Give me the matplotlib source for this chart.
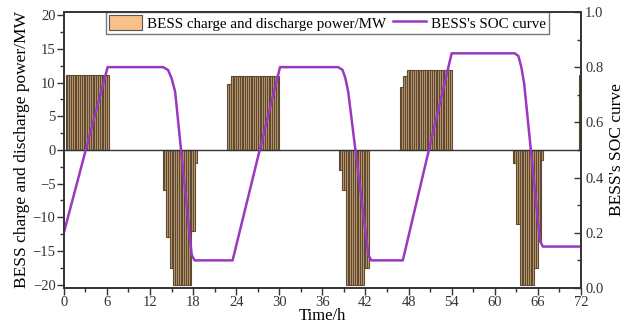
import matplotlib
matplotlib.use('Agg')
import matplotlib.pyplot as plt
from matplotlib.patches import Patch
from matplotlib.ticker import MultipleLocator
import numpy as np

plt.rcParams['font.family'] = ['Liberation Serif', 'DejaVu Serif']

# BESS power schedule as constant-power segments (h, h, MW)
seg_start = [0.25, 13.75, 14.25, 14.75, 15.25, 17.75, 18.25,
             22.75, 23.25, 38.25, 38.75, 39.25, 41.75,
             46.75, 47.25, 47.75, 62.5, 63.0, 63.5, 65.5, 66.0, 66.5, 71.75]
seg_end = [6.25, 14.25, 14.75, 15.25, 17.75, 18.25, 18.5,
           23.25, 30.0, 38.75, 39.25, 41.75, 42.5,
           47.25, 47.75, 54.0, 63.0, 63.5, 65.5, 66.0, 66.5, 66.75, 72.0]
seg_power = [11.2, -6, -13, -17.5, -20, -12, -2,
             9.8, 11.0, -3, -6, -20, -17.5,
             9.4, 11.0, 11.8, -2, -11, -20, -17.5, -13.5, -1.5, 11.2]

# state of charge
soc_t = [0, 6.1, 13.8, 14.5, 15.0, 15.5, 17.8, 18.2, 23.5, 30.1,
         38.2, 38.8, 39.2, 39.6, 42.4, 42.8, 47.2, 54.0,
         62.8, 63.3, 63.7, 64.1, 66.3, 66.7, 72]
soc = [0.2, 0.8, 0.8, 0.79, 0.76, 0.71, 0.12, 0.1, 0.1, 0.8,
       0.8, 0.79, 0.76, 0.71, 0.12, 0.1, 0.1, 0.85,
       0.85, 0.84, 0.8, 0.74, 0.17, 0.15, 0.15]

x_ticks = [0, 6, 12, 18, 24, 30, 36, 42, 48, 54, 60, 66, 72]


def quarter_hours():
    # split every segment into 15-min bars
    t, p = [], []
    for s, e, v in zip(seg_start, seg_end, seg_power):
        for q in np.arange(s, e - 1e-9, 0.25):
            t.append(q)
            p.append(v)
    return np.array(t), np.array(p)


def main():
    fig = plt.figure(figsize=(6.26, 3.31), dpi=100)
    ax = fig.add_axes([0.102, 0.130, 0.826, 0.834])
    ax2 = ax.twinx()

    t, p = quarter_hours()
    ax.bar(t, p, width=0.25, align='edge', color='#c3a171',
           edgecolor='#5e4a33', linewidth=0.8, zorder=2)
    ax.axhline(0, color='#333333', lw=1.0, zorder=3)

    line, = ax2.plot(soc_t, soc, color='#9a38c0', lw=1.8,
                     label="BESS's SOC curve")

    ax.set_xlim(0, 72)
    ax.set_ylim(-20.5, 20.5)
    ax2.set_ylim(0, 1.0)
    ax.set_xticks(x_ticks)
    ax.xaxis.set_minor_locator(MultipleLocator(3))
    ax.set_yticks(range(-20, 21, 5))
    ax.yaxis.set_minor_locator(MultipleLocator(2.5))
    ax2.set_yticks(np.arange(0, 1.01, 0.2))
    ax2.yaxis.set_minor_locator(MultipleLocator(0.1))
    ax2.set_yticklabels(['0.0', '0.2', '0.4', '0.6', '0.8', '1.0'])

    ax.tick_params(axis='both', which='major', direction='out', length=5,
                   width=1, labelsize=10.5, colors='#333333', pad=1)
    ax.tick_params(axis='both', which='minor', direction='out', length=3,
                   width=1, colors='#333333')
    ax2.tick_params(axis='y', which='major', direction='in', length=5,
                    width=1, labelsize=10.5, colors='#333333', pad=3)
    ax2.tick_params(axis='y', which='minor', direction='in', length=3,
                    width=1, colors='#333333')
    for a in (ax, ax2):
        for sp in a.spines.values():
            sp.set_color('#333333')
            sp.set_linewidth(1.2)

    ax.set_xlabel('Time/h', fontsize=12, labelpad=-1)
    ax.set_ylabel('BESS charge and discharge power/MW', fontsize=12.5,
                  labelpad=2)
    ax2.set_ylabel("BESS's SOC curve", fontsize=12.5, labelpad=4)

    bar_key = Patch(facecolor='#f9c08c', edgecolor='#555555', linewidth=0.8)
    leg = ax.legend([bar_key, line],
                    ['BESS charge and discharge power/MW', line.get_label()],
                    loc='upper center', bbox_to_anchor=(0.51, 1.0), ncol=2,
                    fontsize=10.8, frameon=True, fancybox=False,
                    borderaxespad=0, handlelength=2.2, handleheight=1.1,
                    columnspacing=0.4, handletextpad=0.35, borderpad=0.22)
    leg.get_frame().set_edgecolor('#555555')
    leg.get_frame().set_linewidth(1.0)
    leg.set_zorder(10)

    fig.savefig('out.png', dpi=100)
    return 0


if __name__ == "__main__":
    main()
